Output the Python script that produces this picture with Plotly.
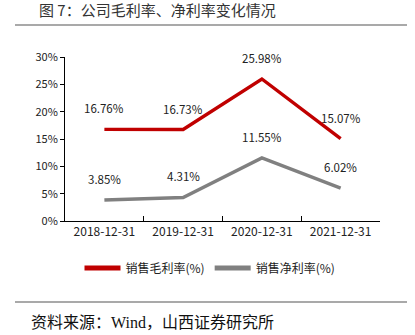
import plotly.graph_objects as go

categories = ["2018-12-31", "2019-12-31", "2020-12-31", "2021-12-31"]
gross_margin = [16.76, 16.73, 25.98, 15.07]
net_margin = [3.85, 4.31, 11.55, 6.02]
y_ticks = [0, 5, 10, 15, 20, 25, 30]
y_tick_labels = ["0%", "5%", "10%", "15%", "20%", "25%", "30%"]

W, H = 415, 335
L, R, T, B = 65, 380, 57, 221

def px(x):
    return (x - L) / (R - L)

def py(y):
    return (B - y) / (B - T)

CJK = "Noto Sans CJK SC"

fig = go.Figure()
fig.add_trace(go.Scatter(x=categories, y=gross_margin, mode="lines", name="销售毛利率(%)",
                         line=dict(color="#C00000", width=3.4)))
fig.add_trace(go.Scatter(x=categories, y=net_margin, mode="lines", name="销售净利率(%)",
                         line=dict(color="#808080", width=3.4)))

for series in (gross_margin, net_margin):
    for c, v in zip(categories, series):
        fig.add_annotation(x=c, y=v, text=f"{v:.2f}%", showarrow=False, yshift=21,
                           font=dict(family=CJK, size=11.5, color="#222222"))

fig.add_annotation(xref="paper", yref="paper", x=px(152), y=py(322), xanchor="center", yanchor="middle",
                   text="资料来源：Wind，山西证券研究所", showarrow=False,
                   font=dict(family="Liberation Serif, " + CJK, size=16, color="#111111"))
fig.add_annotation(xref="paper", yref="paper", x=px(157), y=py(10), xanchor="center", yanchor="middle",
                   text="图 7：公司毛利率、净利率变化情况", showarrow=False,
                   font=dict(family=CJK, size=15, color="#333333"))
for yy in (25, 302):
    fig.add_shape(type="line", xref="paper", yref="paper", x0=px(15), x1=px(407), y0=py(yy), y1=py(yy),
                  line=dict(color="#555555", width=1.2))

fig.update_layout(
    width=W, height=H,
    margin=dict(l=L, r=W - R, t=T, b=H - B),
    paper_bgcolor="white", plot_bgcolor="white",
    font=dict(family=CJK, size=11, color="#222222"),
    showlegend=True,
    legend=dict(orientation="h", x=px(210), y=py(268), xanchor="center", yanchor="middle",
                font=dict(family=CJK, size=12, color="#222222"), itemwidth=36,
                tracegroupgap=0, itemsizing="constant"),
    xaxis=dict(type="category", showline=True, linecolor="black", linewidth=1,
               ticks="inside", tickson="boundaries", ticklen=5, tickcolor="black",
               showgrid=False, zeroline=False, tickfont=dict(size=12), range=[-0.5, 3.5]),
    yaxis=dict(range=[0, 30], tickvals=y_ticks, ticktext=y_tick_labels, showline=True,
               linecolor="black", linewidth=1, ticks="outside", ticklen=4, tickcolor="black",
               showgrid=False, zeroline=False, tickfont=dict(size=11)),
)

fig.write_html("out.html")
